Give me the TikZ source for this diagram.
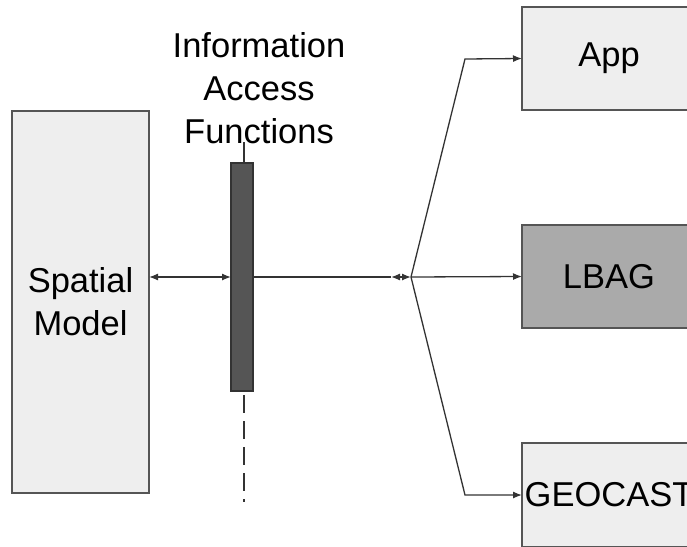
\documentclass[tikz,border=0pt]{standalone}
\usepackage{fontspec}
\setmainfont{Liberation Sans}
\usetikzlibrary{arrows.meta}
\definecolor{edgegray}{HTML}{555555}
\definecolor{linegray}{HTML}{333333}
\definecolor{lightbox}{HTML}{EEEEEE}
\definecolor{midbox}{HTML}{AAAAAA}
\definecolor{barfill}{HTML}{555555}
\tikzset{
  box/.style={draw=edgegray, line width=1.4pt, inner sep=0pt, outer sep=0pt,
    font=\fontsize{34.5}{43}\selectfont, align=center},
  conn/.style={draw=linegray, line width=1.3pt},
  tip/.style={-{Latex[length=9pt,width=7pt]}},
  bitip/.style={{Latex[length=9pt,width=7pt]}-{Latex[length=9pt,width=7pt]}},
}
\begin{document}
\begin{tikzpicture}[x=1pt,y=-1pt]
\clip (0,0) rectangle (687,546);
\fill[white] (0,0) rectangle (687,546);

% blocks
\node[box, fill=lightbox, minimum width=137pt, minimum height=382pt] (spatial) at (80.5,302) {Spatial\\Model};
\node[box, fill=barfill, draw=linegray, minimum width=22pt, minimum height=228pt] (bar) at (242,277) {};
\node[box, fill=lightbox, minimum width=174pt, minimum height=103pt] (app) at (609,58.5) {App};
\node[box, fill=midbox, minimum width=174pt, minimum height=103pt] (lbag) at (609,276.5) {LBAG};
\node[box, fill=lightbox, minimum width=174pt, minimum height=104pt] (geo) at (609,495) {GEOCAST};

% label above the bar
\node[font=\fontsize{34.5}{43}\selectfont, align=center, anchor=base] (iaf) at (259,143) {Information\\Access\\Functions};

% guide line through the bar
\coordinate (ticktop) at (244,142);
\coordinate (dashend) at (244,502);
\draw[conn, line width=1.1pt] (ticktop) -- (ticktop |- bar.north);
\draw[conn, line width=1.3pt, dash pattern=on 18pt off 8pt, dash phase=22pt] (ticktop |- bar.south) -- (dashend);

% connectors
\coordinate (j) at (411,277);
\coordinate (k) at (391,277);
\coordinate (bendA) at (465,59);
\coordinate (bendG) at (465,495);
\draw[conn, bitip] (spatial.east |- j) -- (bar.west |- j);
\draw[conn] (bar.east |- j) -- (k);
\draw[conn, bitip] (k) -- (j);
\draw[conn, tip] (j) -- (lbag.west);
\draw[conn, tip] (j) -- (bendA) -- (app.west);
\draw[conn, tip] (j) -- (bendG) -- (geo.west);
\end{tikzpicture}
\end{document}
